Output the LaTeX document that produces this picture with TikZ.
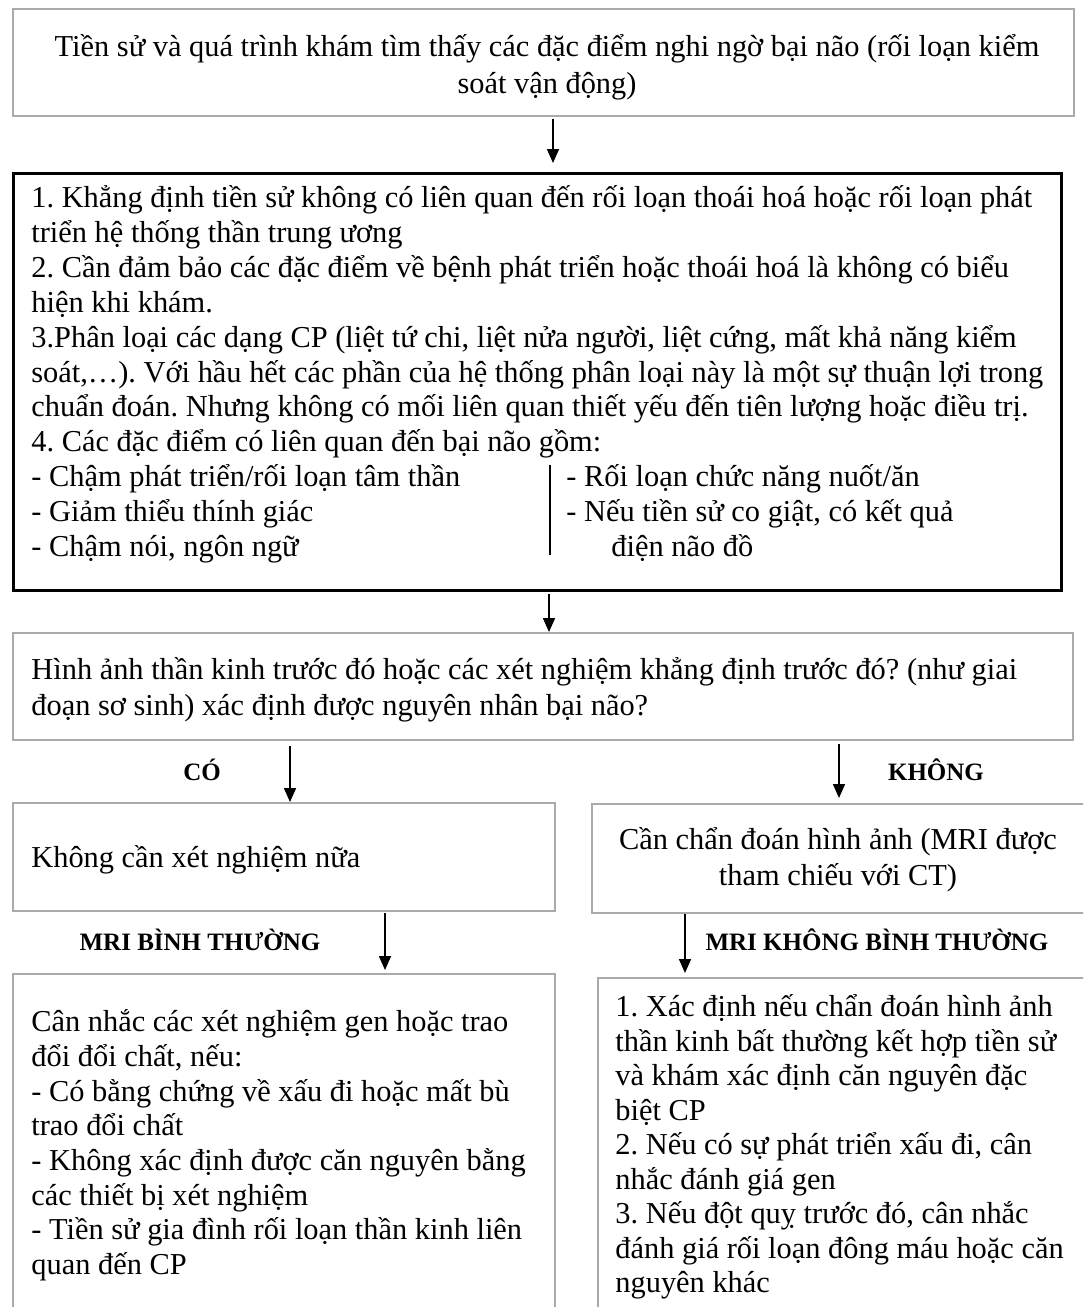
\documentclass[tikz,border=0pt]{standalone}
\usepackage{fontspec}
\setmainfont{Liberation Serif}
\usetikzlibrary{arrows.meta}

\definecolor{boxgray}{RGB}{170,170,170}
\frenchspacing

\begin{document}
\begin{tikzpicture}[x=0.5pt, y=-0.5pt,
>={Triangle[length=7pt, width=6pt]},
graybox/.style={draw=boxgray, line width=1pt, anchor=north west, inner sep=0pt},
blackbox/.style={draw=black, line width=1.3pt, anchor=north west, inner sep=0pt},
arr/.style={->, line width=0.8pt},
txt/.style={anchor=mid west, inner sep=0pt, font=\fontsize{15.2}{17.3}\selectfont},
ctr/.style={anchor=mid, inner sep=0pt, font=\fontsize{15.2}{17.3}\selectfont},
lbl/.style={anchor=mid, inner sep=0pt, font=\fontsize{12.5}{14}\selectfont\bfseries}]
\useasboundingbox[fill=white] (0,0) rectangle (1083,1307);
\clip (0,0) rectangle (1083,1307);
\def\fy{34.9}

% boxes
\node[graybox, minimum width=530.5pt, minimum height=53.5pt] (b1) at (12,8) {};
\node[blackbox, minimum width=524pt, minimum height=208.5pt] (b2) at (12,172) {};
\node[graybox, minimum width=530pt, minimum height=53.5pt] (b3) at (12,632) {};
\node[graybox, minimum width=271pt, minimum height=54pt] (b4) at (12,802) {};
\node[graybox, minimum width=254.5pt, minimum height=54.5pt] (b5) at (591,803) {};
\node[graybox, minimum width=271pt, minimum height=178.5pt] (b6) at (12,973) {};
\node[graybox, minimum width=251.5pt, minimum height=176.5pt] (b7) at (597,977) {};

% history
\node[ctr] (b1t0) at (547,52) {Tiền sử và quá trình khám tìm thấy các đặc điểm nghi ngờ bại não (rối loạn kiểm};
\node[ctr] (b1t1) at (547,89) {soát vận động)};

% checks
\foreach \l [count=\i from 0] in {%
{1. Khẳng định tiền sử không có liên quan đến rối loạn thoái hoá hoặc rối loạn phát},
{triển hệ thống thần trung ương},
{2. Cần đảm bảo các đặc điểm về bệnh phát triển hoặc thoái hoá là không có biểu},
{hiện khi khám.},
{3.Phân loại các dạng CP (liệt tứ chi, liệt nửa người, liệt cứng, mất khả năng kiểm},
{soát,…). Với hầu hết các phần của hệ thống phân loại này là một sự thuận lợi trong},
{chuẩn đoán. Nhưng không có mối liên quan thiết yếu đến tiên lượng hoặc điều trị.},
{4. Các đặc điểm có liên quan đến bại não gồm:},
{- Chậm phát triển/rối loạn tâm thần},
{- Giảm thiểu thính giác},
{- Chậm nói, ngôn ngữ}}
  \node[txt] (b2t\i) at (31,{203+\i*\fy}) {\l};
\node[txt] (b2r0) at (566,{203+8*\fy}) {- Rối loạn chức năng nuốt/ăn};
\node[txt] (b2r1) at (566,{203+9*\fy}) {- Nếu tiền sử co giật, có kết quả};
\node[txt] (b2r2) at (611,{203+10*\fy}) {điện não đồ};
\path (b2.south west) ++(538,-37) coordinate (d2);
\draw[line width=0.8pt] (d2) -- ++(0,-90);

% imaging question
\node[txt] (b3t0) at (31,675) {Hình ảnh thần kinh trước đó hoặc các xét nghiệm khẳng định trước đó? (như giai};
\node[txt] (b3t1) at (31,711) {đoạn sơ sinh) xác định được nguyên nhân bại não?};

\node[txt] (b4t0) at (31,863) {Không cần xét nghiệm nữa};
\node[ctr] (b5t0) at (838,845) {Cần chẩn đoán hình ảnh (MRI được};
\node[ctr] (b5t1) at (838,881) {tham chiếu với CT)};

% MRI normal
\foreach \l [count=\i from 0] in {%
{Cân nhắc các xét nghiệm gen hoặc trao},
{đổi đổi chất, nếu:},
{- Có bằng chứng về xấu đi hoặc mất bù},
{trao đổi chất},
{- Không xác định được căn nguyên bằng},
{các thiết bị xét nghiệm},
{- Tiền sử gia đình rối loạn thần kinh liên},
{quan đến CP}}
  \node[txt] (b6t\i) at (31,{1027+\i*34.7}) {\l};

% MRI abnormal
\foreach \l [count=\i from 0] in {%
{1. Xác định nếu chẩn đoán hình ảnh},
{thần kinh bất thường kết hợp tiền sử},
{và khám xác định căn nguyên đặc},
{biệt CP},
{2. Nếu có sự phát triển xấu đi, cân},
{nhắc đánh giá gen},
{3. Nếu đột quỵ trước đó, cân nhắc},
{đánh giá rối loạn đông máu hoặc căn},
{nguyên khác}}
  \node[txt] (b7t\i) at (615,{1012+\i*34.5}) {\l};

% labels
\node[lbl] (yes) at (202,776) {CÓ};
\node[lbl] (no) at (936,776) {KHÔNG};
\node[lbl] (mrin) at (200,946) {MRI BÌNH THƯỜNG};
\node[lbl] (mria) at (877,946) {MRI KHÔNG BÌNH THƯỜNG};

% arrows
\path (b1.south west) ++(541,0) coordinate (a1);
\path (b2.south west) ++(537,0) coordinate (a2);
\path (b3.south west) ++(278,0) coordinate (a3);
\path (b3.south west) ++(827,0) coordinate (a4);
\path (b4.south west) ++(373,0) coordinate (a5);
\path (b5.south west) ++(94,0) coordinate (a6);
\draw[arr, shorten <=1pt, shorten >=4.5pt] (a1) -- (a1 |- b2.north);
\draw[arr, shorten <=1pt] (a2) -- (a2 |- b3.north);
\draw[arr, shorten <=2.5pt] (a3) -- (a3 |- b4.north);
\draw[arr, shorten <=1.5pt, shorten >=2.5pt] (a4) -- (a4 |- b5.north);
\draw[arr, shorten <=0.5pt, shorten >=1.5pt] (a5) -- (a5 |- b6.north);
\draw[arr, shorten >=2pt] (a6) -- (a6 |- b7.north);
\end{tikzpicture}
\end{document}
